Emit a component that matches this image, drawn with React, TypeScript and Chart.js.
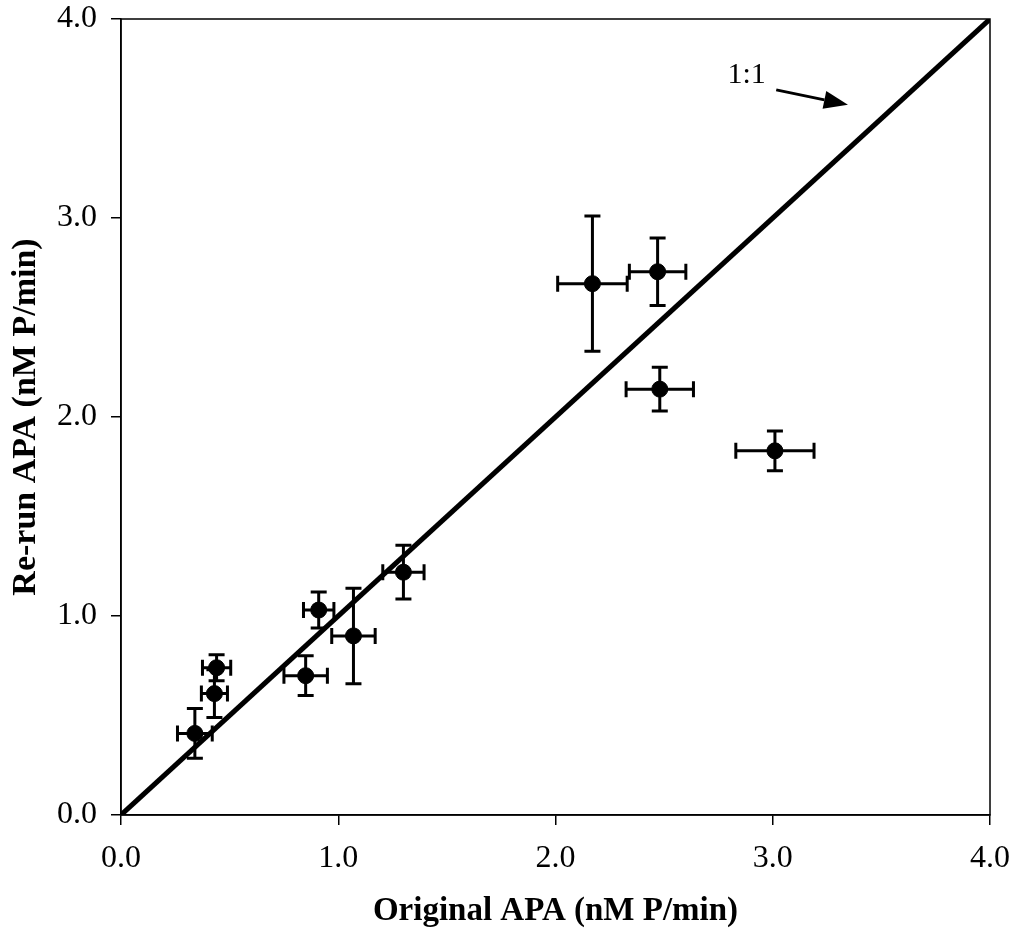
import React, { useEffect, useRef } from "react";
import { Chart, registerables } from "chart.js";
Chart.register(...registerables);

// Data
const originalAPA = [0.34, 0.43, 0.44, 0.85, 0.91, 1.07, 1.30, 2.17, 2.47, 2.48, 3.01];
const rerunAPA = [0.41, 0.61, 0.74, 0.70, 1.03, 0.90, 1.22, 2.67, 2.73, 2.14, 1.83];
const originalErr = [0.08, 0.06, 0.065, 0.10, 0.07, 0.10, 0.095, 0.16, 0.13, 0.155, 0.18];
const rerunErr = [0.125, 0.12, 0.065, 0.10, 0.09, 0.24, 0.135, 0.34, 0.17, 0.11, 0.10];
const oneToOneX = [0, 4];
const oneToOneY = [0, 4];
const xTickLabels = ["0.0", "1.0", "2.0", "3.0", "4.0"];
const yTickLabels = ["0.0", "1.0", "2.0", "3.0", "4.0"];
const xTitle = "Original APA (nM P/min)";
const yTitle = "Re-run APA (nM P/min)";
const annotText = "1:1";
const annotPos = [2.88, 3.72];
const arrowFrom = [3.016, 3.644];
const arrowTo = [3.346, 3.569];

const FONT = "'Liberation Serif', 'Times New Roman', serif";

export default function App() {
  const ref = useRef<HTMLCanvasElement>(null);
  useEffect(() => {
    const errorBars = {
      id: "errorBars",
      afterDatasetsDraw(chart: any) {
        const { ctx, scales } = chart;
        const xs = scales.x, ys = scales.y;
        ctx.save();
        ctx.strokeStyle = "#000";
        ctx.lineWidth = 3;
        const cap = 8;
        for (let i = 0; i < originalAPA.length; i++) {
          const cx = xs.getPixelForValue(originalAPA[i]);
          const cy = ys.getPixelForValue(rerunAPA[i]);
          const x1 = xs.getPixelForValue(originalAPA[i] - originalErr[i]);
          const x2 = xs.getPixelForValue(originalAPA[i] + originalErr[i]);
          const y1 = ys.getPixelForValue(rerunAPA[i] - rerunErr[i]);
          const y2 = ys.getPixelForValue(rerunAPA[i] + rerunErr[i]);
          ctx.beginPath();
          ctx.moveTo(x1, cy); ctx.lineTo(x2, cy);
          ctx.moveTo(x1, cy - cap); ctx.lineTo(x1, cy + cap);
          ctx.moveTo(x2, cy - cap); ctx.lineTo(x2, cy + cap);
          ctx.moveTo(cx, y1); ctx.lineTo(cx, y2);
          ctx.moveTo(cx - cap, y1); ctx.lineTo(cx + cap, y1);
          ctx.moveTo(cx - cap, y2); ctx.lineTo(cx + cap, y2);
          ctx.stroke();
        }
        ctx.restore();
      },
    };
    const frame = {
      id: "frame",
      afterDraw(chart: any) {
        const { ctx, chartArea } = chart;
        ctx.save();
        ctx.strokeStyle = "#000";
        ctx.lineWidth = 1.5;
        ctx.strokeRect(chartArea.left, chartArea.top, chartArea.right - chartArea.left, chartArea.bottom - chartArea.top);
        ctx.restore();
      },
    };
    const annot = {
      id: "annot",
      afterDraw(chart: any) {
        const { ctx, scales } = chart;
        const xs = scales.x, ys = scales.y;
        ctx.save();
        ctx.fillStyle = "#000";
        ctx.strokeStyle = "#000";
        ctx.font = `30px ${FONT}`;
        ctx.textAlign = "center";
        ctx.textBaseline = "middle";
        ctx.fillText(annotText, xs.getPixelForValue(annotPos[0]), ys.getPixelForValue(annotPos[1]));
        const ax = xs.getPixelForValue(arrowFrom[0]), ay = ys.getPixelForValue(arrowFrom[1]);
        const bx = xs.getPixelForValue(arrowTo[0]), by = ys.getPixelForValue(arrowTo[1]);
        const ang = Math.atan2(by - ay, bx - ax);
        const hl = 24, hw = 9;
        const baseX = bx - hl * Math.cos(ang), baseY = by - hl * Math.sin(ang);
        ctx.lineWidth = 3;
        ctx.beginPath();
        ctx.moveTo(ax, ay);
        ctx.lineTo(baseX, baseY);
        ctx.stroke();
        ctx.beginPath();
        ctx.moveTo(bx, by);
        ctx.lineTo(baseX + hw * Math.sin(ang), baseY - hw * Math.cos(ang));
        ctx.lineTo(baseX - hw * Math.sin(ang), baseY + hw * Math.cos(ang));
        ctx.closePath();
        ctx.fill();
        ctx.restore();
      },
    };

    const chart = new Chart(ref.current as HTMLCanvasElement, {
      type: "scatter",
      data: {
        datasets: [
          {
            type: "line",
            data: oneToOneX.map((x, i) => ({ x, y: oneToOneY[i] })),
            borderColor: "#000",
            borderWidth: 5,
            pointRadius: 0,
            order: 2,
          } as any,
          {
            data: originalAPA.map((x, i) => ({ x, y: rerunAPA[i] })),
            backgroundColor: "#000",
            borderColor: "#000",
            pointRadius: 8,
            order: 1,
          },
        ],
      },
      options: {
        animation: false,
        responsive: false,
        devicePixelRatio: 1,
        layout: { padding: { top: 19, right: 26, left: 0, bottom: 0 } },
        plugins: { legend: { display: false }, tooltip: { enabled: false } },
        scales: {
          x: {
            type: "linear",
            min: 0,
            max: 4,
            ticks: {
              stepSize: 1,
              callback: (_v: any, i: number) => xTickLabels[i],
              font: { family: FONT, size: 32 },
              color: "#000",
              padding: 14,
              maxRotation: 0,
            },
            grid: { drawOnChartArea: false, tickLength: 10, color: "#000", lineWidth: 1.5 },
            border: { color: "#000", width: 1.5 },
            title: {
              display: true,
              text: xTitle,
              font: { family: FONT, size: 33, weight: "bold" },
              color: "#000",
              padding: { top: 0, bottom: 7 },
            },
            afterFit(s: any) { s.height = 123; s.paddingLeft = 0; s.paddingRight = 0; },
          },
          y: {
            type: "linear",
            min: 0,
            max: 4,
            ticks: {
              stepSize: 1,
              callback: (_v: any, i: number) => yTickLabels[i],
              font: { family: FONT, size: 32 },
              color: "#000",
              padding: 14,
            },
            grid: { drawOnChartArea: false, tickLength: 10, color: "#000", lineWidth: 1.5 },
            border: { color: "#000", width: 1.5 },
            title: {
              display: true,
              text: yTitle,
              font: { family: FONT, size: 34, weight: "bold" },
              color: "#000",
              padding: { top: 6, bottom: 0 },
            },
            afterFit(s: any) { s.width = 121; s.paddingTop = 0; s.paddingBottom = 0; },
          },
        },
      } as any,
      plugins: [errorBars, frame, annot],
    });
    return () => chart.destroy();
  }, []);

  return (
    <div style={{ position: "fixed", left: 0, top: 0, width: 1016, height: 938, background: "#fff" }}>
      <canvas ref={ref} width={1016} height={938} style={{ width: 1016, height: 938, display: "block" }} />
    </div>
  );
}
